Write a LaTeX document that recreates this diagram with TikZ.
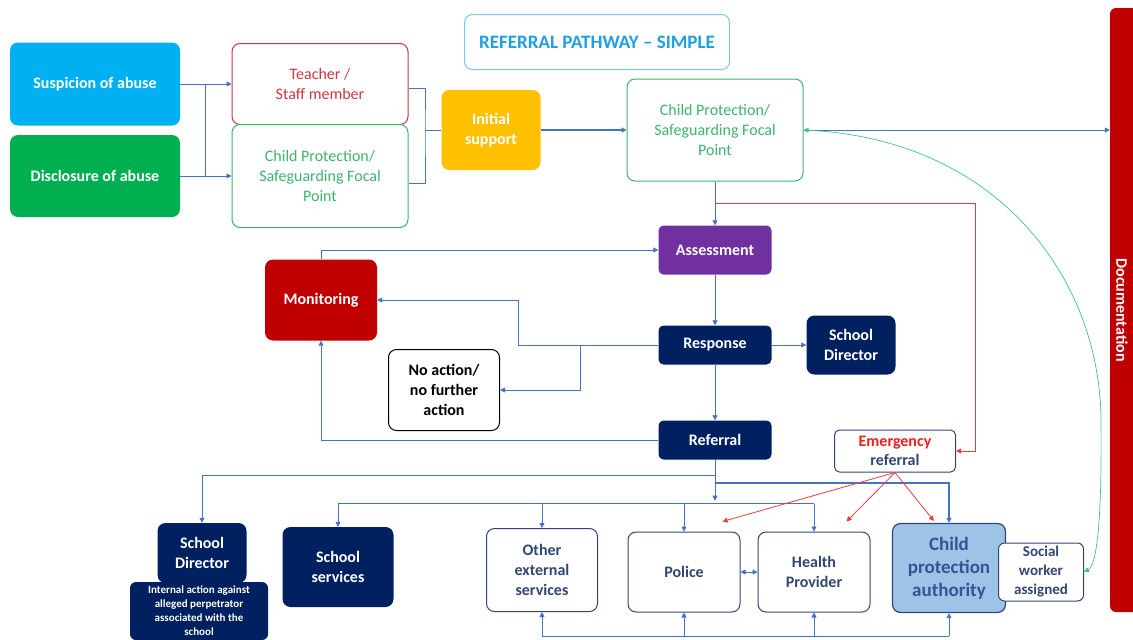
\documentclass[tikz,border=0pt]{standalone}
\usepackage{fontspec}
\setmainfont{Carlito}
\usetikzlibrary{arrows.meta,positioning}
\definecolor{pwnavy}{RGB}{0,32,96}
\definecolor{pwblue}{RGB}{68,114,196}
\definecolor{pwcyan}{RGB}{0,176,240}
\definecolor{pwgreen}{RGB}{0,176,80}
\definecolor{pwcpgreen}{RGB}{60,180,110}
\definecolor{pwred}{RGB}{192,0,0}
\definecolor{pwteach}{RGB}{205,55,65}
\definecolor{pwyellow}{RGB}{255,192,0}
\definecolor{pwpurple}{RGB}{112,48,160}
\definecolor{pwauth}{RGB}{157,195,230}
\definecolor{pwauthtext}{RGB}{50,85,150}
\definecolor{pwslate}{RGB}{50,70,115}
\definecolor{pwemerg}{RGB}{240,30,30}
\definecolor{pwredline}{RGB}{235,60,60}
\definecolor{pwgreenline}{RGB}{60,200,120}
\definecolor{pwtitle}{RGB}{30,160,225}
\definecolor{pwtitleborder}{RGB}{120,200,240}

\begin{document}
\begin{tikzpicture}[x=1pt, y=-1pt,
    base/.style={rounded corners=8pt, align=center, inner sep=1pt, font=\fontsize{16}{20}\selectfont\bfseries},
    filledbox/.style={base, fill=#1, text=white},
    linebox/.style={base, draw=#1, fill=white, line width=1pt},
    plain/.style={draw=pwblue, line width=0.8pt},
    link/.style={plain, -{Triangle[length=5pt,width=5pt]}},
    redlink/.style={draw=pwredline, line width=0.8pt, -{Triangle[length=5pt,width=5pt]}},
    greenlink/.style={draw=pwgreenline, line width=0.7pt, {Triangle[length=5pt,width=5pt]}-{Triangle[length=5pt,width=5pt]}}
  ]
  \useasboundingbox (0,0) rectangle (1133,640);

  % title
  \node[linebox=pwtitleborder, text=pwtitle, font=\fontsize{19}{22}\selectfont\bfseries, minimum width=265, minimum height=55] (title) at (597,42) {REFERRAL PATHWAY -- SIMPLE};

  % first steps
  \node[filledbox=pwcyan, minimum width=170, minimum height=83] (suspicion) at (95,84) {Suspicion of abuse};
  \node[filledbox=pwgreen, minimum width=170, minimum height=82] (disclosure) at (95,176) {Disclosure of abuse};
  \node[linebox=pwteach, text=pwteach, font=\fontsize{16}{20}\selectfont, minimum width=176, minimum height=81] (teacher) at (320,84) {Teacher /\\Staff member};
  \node[linebox=pwcpgreen, text=pwcpgreen, font=\fontsize{16}{20}\selectfont, minimum width=176, minimum height=103] (focalL) at (320,176) {Child Protection/\\Safeguarding Focal\\Point};
  \node[filledbox=pwyellow, minimum width=99, minimum height=80] (initial) at (491,130) {Initial\\support};
  \node[linebox=pwcpgreen, text=pwcpgreen, font=\fontsize{16}{20}\selectfont, minimum width=176, minimum height=102] (focalR) at (715,130) {Child Protection/\\Safeguarding Focal\\Point};

  % assessment and response
  \node[filledbox=pwpurple, minimum width=113, minimum height=49, rounded corners=5pt] (assess) at (715,250) {Assessment};
  \node[filledbox=pwred, minimum width=112, minimum height=81] (monitor) at (321,300) {Monitoring};
  \node[filledbox=pwnavy, minimum width=113, minimum height=39, rounded corners=5pt] (response) at (715,345) {Response};
  \node[filledbox=pwnavy, minimum width=89, minimum height=59] (directorR) at (851,345) {School\\Director};
  \node[linebox=black, minimum width=111, minimum height=81] (noaction) at (444,390) {No action/\\no further\\action};
  \node[filledbox=pwnavy, minimum width=113, minimum height=39, rounded corners=5pt] (referral) at (715,440) {Referral};
  \node[linebox=pwslate, font=\fontsize{16}{19}\selectfont\bfseries, inner sep=0.5pt, minimum width=121, minimum height=42, rounded corners=5pt] (emergency) at (895,451) {\textcolor{pwemerg}{Emergency}\\\textcolor{pwslate}{referral}};

  % referral targets
  \node[filledbox=pwnavy, minimum width=89, minimum height=60] (directorB) at (202,553) {School\\Director};
  \node[filledbox=pwnavy, font=\fontsize{11}{14}\selectfont\bfseries, minimum width=138, minimum height=58, rounded corners=6pt] (internal) at (199,611) {Internal action against\\alleged perpetrator\\associated with the\\school};
  \node[filledbox=pwnavy, minimum width=111, minimum height=80] (services) at (338,567) {School\\services};
  \node[linebox=pwslate, text=pwslate, minimum width=111, minimum height=83] (other) at (542,570) {Other\\external\\services};
  \node[linebox=pwslate, text=pwslate, minimum width=112, minimum height=80] (police) at (684,572) {Police};
  \node[linebox=pwslate, text=pwslate, minimum width=112, minimum height=80] (health) at (814,572) {Health\\Provider};
  \node[base, draw=pwslate, fill=pwauth, text=pwauthtext, line width=1.2pt, font=\fontsize{19}{23}\selectfont\bfseries, minimum width=113, minimum height=89] (authority) at (949,568) {Child\\protection\\authority};
  \node[linebox=pwslate, text=pwslate, font=\fontsize{15}{19}\selectfont\bfseries, inner sep=0.5pt, minimum width=85, minimum height=58, rounded corners=6pt] (social) at (1041,572) {Social\\worker\\assigned};

  % documentation bar
  \node[fill=pwred, rounded corners=6pt, inner sep=0pt, minimum width=40, minimum height=604] (docbar) at (1130,310) {};
  \node[rotate=-90, text=white, font=\fontsize{16}{19}\selectfont\bfseries] (doclabel) at (1122,310) {Documentation};

  % first connectors
  \draw[link] (suspicion) -- (teacher);
  \draw[link] (disclosure) -- (focalL);
  \draw[plain] ([xshift=25pt]suspicion.east) -- ([xshift=25pt]disclosure.east);
  \coordinate (brace) at (425,130);
  \draw[plain] ([yshift=-4pt]teacher.east) -| (brace) |- ([yshift=-7pt]focalL.east);
  \draw[plain] (brace) -- (initial);
  \draw[link, line width=2pt] (initial) -- (focalR);
  \draw[link] (focalR.east) -- (focalR.east -| docbar.west);
  \draw[greenlink] (focalR.east) .. controls (1000,140) and (1100,280) .. (1101,420)
    .. controls (1102,520) and (1097,565) .. (social.east);

  % assessment loop
  \draw[link] (focalR) -- (assess);
  \draw[redlink] ([yshift=-22pt]focalR.south) -- ++(260,0) |- (emergency.east);
  \draw[link] (assess) -- (response);
  \draw[link] (response) -- (referral);
  \draw[link] (response) -- (directorR);
  \draw[link] (monitor.north) |- (assess.west);
  \draw[link] (response.west) -- ++(-140,0) |- (monitor.east);
  \draw[link] ([xshift=-78pt]response.west) |- (noaction.east);
  \draw[link] (referral.west) -| (monitor.south);

  % referral branches
  \coordinate (busA) at ([yshift=-16pt]referral.south);
  \coordinate (busB) at ([yshift=-44pt]referral.south);
  \coordinate (busC) at (0,636);
  \draw[link] (referral.south) -- ([yshift=-41pt]referral.south);
  \draw[link] (busA) -| (directorB.north);
  \draw[plain] (busB -| services.north) -- (busB -| health.north);
  \foreach \dest in {services, other, police, health}
    \draw[link] (busB -| \dest.north) -- (\dest.north);
  \draw[link, line width=2pt] ([yshift=-23pt]referral.south) -| (authority.north);
  \draw[link, {Triangle[length=5pt,width=5pt]}-{Triangle[length=5pt,width=5pt]}] (police) -- (health);
  \draw[plain] (other.south |- busC) -- (authority.south |- busC);
  \foreach \dest in {other, police, health, authority}
    \draw[link] (\dest.south |- busC) -- (\dest.south);

  % emergency arrows
  \draw[redlink] (emergency.south) -- ([xshift=-18pt, yshift=10pt]police.north east);
  \draw[redlink] (emergency.south) -- ([xshift=-24pt, yshift=10pt]health.north east);
  \draw[redlink] (emergency.south) -- ([xshift=42pt, yshift=2pt]authority.north west);
\end{tikzpicture}
\end{document}
